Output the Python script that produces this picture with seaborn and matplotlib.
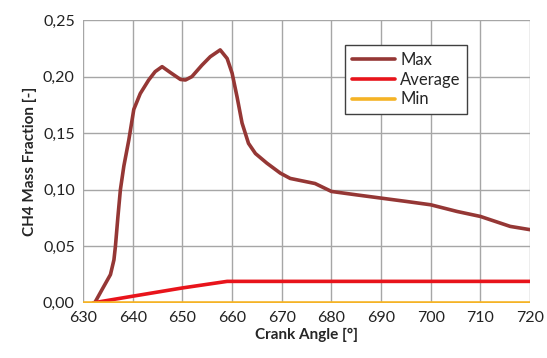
import matplotlib
matplotlib.use("Agg")
import matplotlib.pyplot as plt
import seaborn as sns
import pandas as pd
from matplotlib.ticker import FuncFormatter, MultipleLocator

# Data
max_angle = [632.3, 632.5, 633.8, 635.5, 636.2, 636.5, 637.0, 637.5, 638.2, 639.2, 640.2,
             641.5, 643.2, 644.5, 645.9, 647.6, 649.6, 650.6, 651.9, 653.9, 655.6, 657.6,
             659.0, 660.0, 661.0, 662.0, 663.3, 664.7, 667.0, 669.7, 671.7, 676.7, 680.0,
             685.0, 690.0, 695.0, 700.0, 705.3, 710.0, 713.0, 716.0, 720.0]
max_val = [0.000, 0.0014, 0.0117, 0.025, 0.038, 0.050, 0.076, 0.100, 0.121, 0.144, 0.171,
           0.185, 0.197, 0.2044, 0.2088, 0.2035, 0.1975, 0.197, 0.200, 0.210, 0.2176, 0.2236,
           0.216, 0.203, 0.182, 0.159, 0.141, 0.132, 0.1235, 0.1147, 0.110, 0.1055, 0.0985,
           0.0955, 0.0926, 0.0897, 0.0867, 0.0808, 0.0764, 0.072, 0.0676, 0.0647]
avg_angle = [632.0, 640.0, 650.0, 659.0, 670.0, 690.0, 720.0]
avg_val = [0.000, 0.0059, 0.0132, 0.019, 0.019, 0.019, 0.019]
min_angle = [630.0, 720.0]
min_val = [0.0, 0.0]

series_names = ["Max", "Average", "Min"]
colors = {"Max": "#953735", "Average": "#E8141B", "Min": "#F5B325"}

df = pd.concat([
    pd.DataFrame({"angle": max_angle, "val": max_val, "series": "Max"}),
    pd.DataFrame({"angle": avg_angle, "val": avg_val, "series": "Average"}),
    pd.DataFrame({"angle": min_angle, "val": min_val, "series": "Min"}),
])

sns.set_theme(style="white")
plt.rcParams["font.family"] = ["Lato", "DejaVu Sans"]

fig = plt.figure(figsize=(5.47, 3.58), dpi=100)
ax = fig.add_axes([0.152, 0.154, 0.817, 0.79])

sns.lineplot(data=df, x="angle", y="val", hue="series", hue_order=series_names,
             palette=colors, linewidth=2.6, ax=ax, sort=False, estimator=None)
for ln in ax.get_lines():
    ln.set_solid_joinstyle("round")
    ln.set_solid_capstyle("round")

ax.set_xlim(630, 720)
ax.set_ylim(0, 0.25)
ax.xaxis.set_major_locator(MultipleLocator(10))
ax.yaxis.set_major_locator(MultipleLocator(0.05))
ax.yaxis.set_major_formatter(FuncFormatter(lambda v, p: f"{v:.2f}".replace(".", ",")))
ax.grid(True, color="#a6a6a6", linewidth=1.0)
for s in ax.spines.values():
    s.set_visible(False)
ax.tick_params(axis="both", labelsize=11.5, colors="#222222", length=0, pad=6)
ax.set_xlabel("Crank Angle [°]", fontsize=11, fontweight="bold", labelpad=2)
ax.set_ylabel("CH4 Mass Fraction [-]", fontsize=11, fontweight="bold", labelpad=4)

leg = ax.legend(loc="upper left", bbox_to_anchor=(0.568, 0.94), fontsize=12,
                frameon=True, fancybox=False, edgecolor="#404040", framealpha=1,
                handlelength=2.6, handletextpad=0.3, labelspacing=0.22,
                borderpad=0.4, title=None)
leg.get_frame().set_linewidth(1.0)

fig.savefig("out.png", dpi=100)
